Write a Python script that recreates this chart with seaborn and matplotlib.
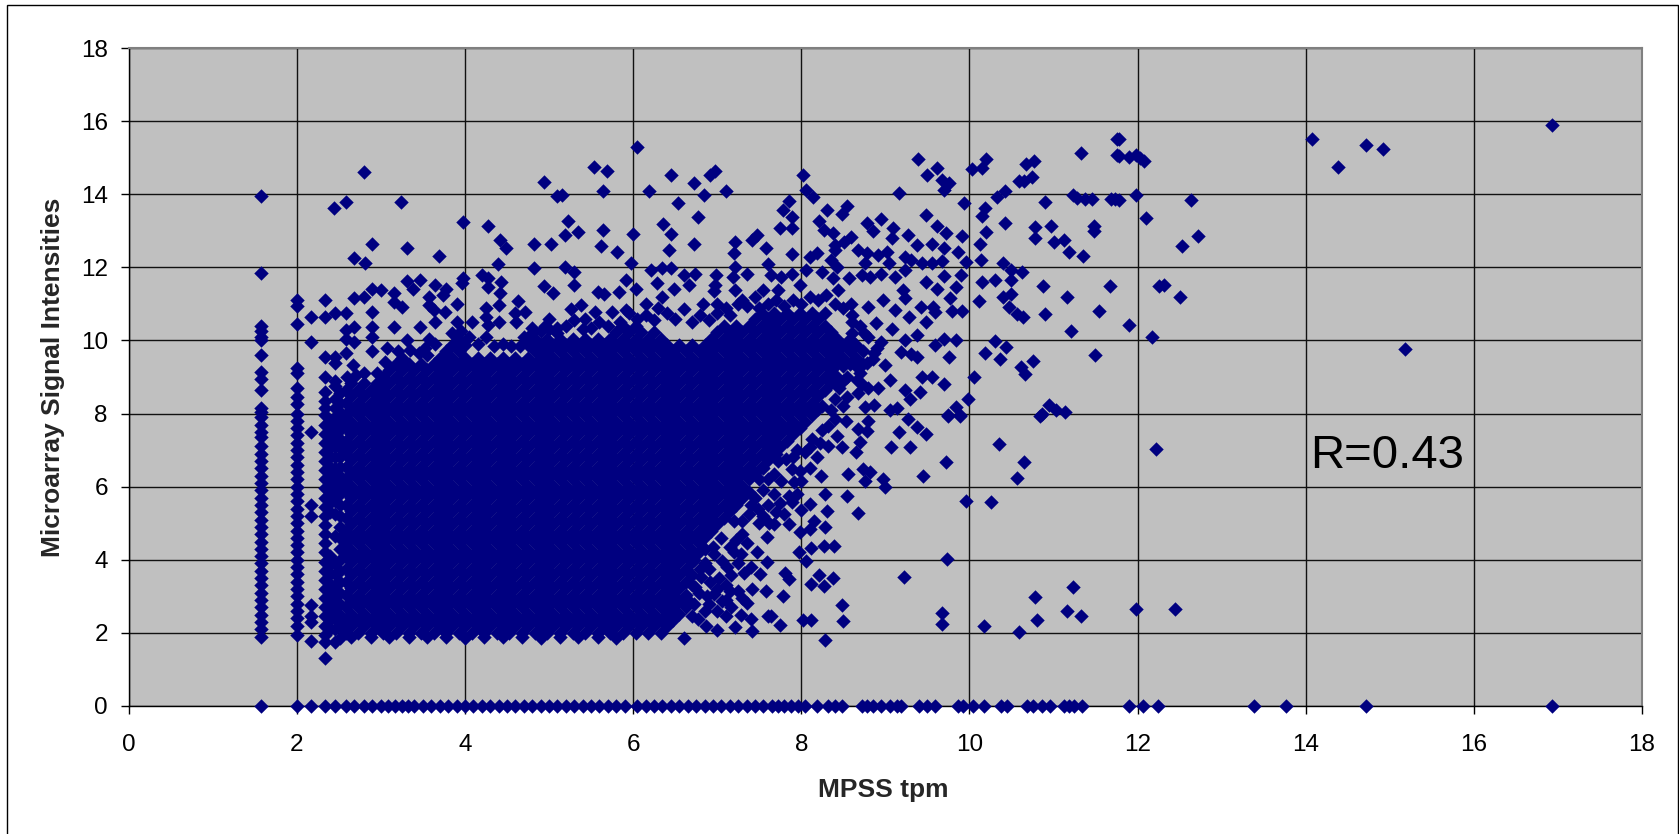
import matplotlib
matplotlib.use("Agg")
import matplotlib.pyplot as plt
import pandas as pd
import seaborn as sns
from matplotlib.patches import Rectangle

# Columns at the low end of the x axis, read one by one
col_158 = [13.95, 11.85, 10.4, 10.25, 10.1, 10.0, 9.6, 9.15, 8.95, 8.65, 8.15, 8.05, 7.9, 7.7, 7.5, 7.35, 7.1, 6.9, 6.7, 6.5, 6.3, 6.1, 5.9, 5.7, 5.5, 5.3, 5.1, 4.9, 4.7, 4.5, 4.3, 4.1, 3.9, 3.7, 3.5, 3.3, 3.1, 2.9, 2.7, 2.5, 2.3, 2.1, 1.9, 0]
col_200 = [11.1, 10.95, 10.45, 9.25, 9.1, 8.7, 8.45, 8.25, 8.0, 7.8, 7.6, 7.4, 7.2, 7.0, 6.8, 6.6, 6.4, 6.2, 6.0, 5.8, 5.6, 5.4, 5.2, 5.0, 4.8, 4.6, 4.4, 4.2, 4.0, 3.8, 3.6, 3.4, 3.2, 3.0, 2.8, 2.6, 2.4, 2.2, 1.95, 0]
col_217 = [10.65, 9.95, 7.5, 5.5, 5.2, 2.75, 2.47, 2.3, 1.78, 0]
col_233 = [11.1, 10.65, 9.55, 9.0, 8.6, 8.35, 8.15, 7.95, 7.7, 7.45, 7.2, 6.95, 6.7, 6.45, 6.2, 5.95, 5.7, 5.45, 5.2, 4.95, 4.7, 4.45, 4.2, 3.95, 3.7, 3.45, 3.2, 2.95, 2.7, 2.45, 2.2, 1.95, 1.75, 1.31, 0]
col_239 = [7.8, 7.55, 7.3, 7.05, 6.8, 6.55, 6.3, 6.05, 5.8, 5.55, 5.3, 4.1, 3.85, 3.6, 3.35, 3.1, 2.85, 2.6, 2.35, 2.1]
col_245 = [10.75, 9.55, 9.38, 8.9, 8.75, 8.4, 8.15, 7.9, 7.7, 7.4, 7.1, 6.8, 6.5, 6.2, 5.9, 5.6, 5.25, 4.65, 3.9, 3.6, 3.3, 3.0, 2.7, 2.4, 2.1, 1.75, 0]
col_252 = [8.55, 8.3, 8.05, 7.8, 7.55, 7.3, 7.05, 6.8, 6.55, 6.3, 6.05, 5.8, 5.5, 5.2, 4.9, 4.6, 4.3, 4.0, 3.7, 3.4, 3.1, 2.8, 2.5, 2.2, 1.85]

# Points sitting on y=0
baseline_x = [2.58, 2.68, 2.8, 2.9, 3.0, 3.08, 3.17, 3.25, 3.32, 3.4, 3.5, 3.6, 3.7, 3.8, 3.9, 4.0, 4.1, 4.2, 4.3, 4.4, 4.5, 4.6, 4.7, 4.8, 4.9, 5.0, 5.1, 5.2, 5.3, 5.4, 5.5, 5.6, 5.7, 5.8, 5.9, 6.05, 6.15, 6.25, 6.35, 6.45, 6.55, 6.65, 6.75, 6.85, 6.95, 7.05, 7.15, 7.25, 7.35, 7.45, 7.55, 7.65, 7.72, 7.8, 7.88, 7.96, 8.04, 8.19, 8.32, 8.4, 8.49, 8.72, 8.78, 8.85, 8.95, 9.06, 9.14, 9.19, 9.4, 9.5, 9.59, 9.87, 9.93, 10.04, 10.17, 10.38, 10.45, 10.69, 10.76, 10.86, 10.96, 11.12, 11.18, 11.25, 11.34, 11.9, 12.07, 12.24, 13.39, 13.76, 14.72, 16.93]

# Separate points above and around the cloud
upper_points = [(2.68, 12.26), (2.81, 12.13), (2.44, 13.63), (2.59, 13.79), (2.8, 14.61), (3.24, 13.79), (2.9, 12.63), (3.31, 12.52), (3.69, 12.3), (2.68, 11.15), (2.8, 11.2), (2.9, 11.42), (3.0, 11.38), (2.9, 10.77), (3.16, 11.29), (3.16, 11.06), (3.25, 10.92), (3.31, 11.63), (3.46, 11.65), (3.38, 11.42), (3.65, 11.51), (3.78, 11.42), (3.57, 11.2), (3.74, 11.24), (3.57, 10.97), (3.63, 10.83), (3.76, 10.79), (3.65, 10.51), (3.91, 11.0), (3.98, 13.25), (4.27, 13.13), (3.98, 11.7), (3.97, 11.56), (4.42, 12.76), (4.49, 12.52), (4.39, 12.08), (4.82, 12.63), (5.02, 12.63), (4.82, 11.97), (4.94, 14.34), (5.1, 13.95), (4.2, 11.79), (4.28, 11.7), (4.27, 11.47), (4.43, 11.6), (4.42, 11.29), (4.4, 10.97), (4.25, 10.88), (4.25, 10.65), (4.63, 11.08), (4.94, 11.5), (5.05, 11.29), (3.16, 10.36), (2.9, 10.37), (2.9, 10.1), (2.68, 10.36), (2.58, 10.28), (3.46, 10.38), (3.91, 10.51), (4.08, 10.51), (4.27, 10.42), (4.4, 10.51), (4.59, 10.74), (4.61, 10.51), (4.71, 10.79), (4.8, 10.33), (3.31, 10.0), (3.57, 10.03), (3.52, 9.78), (2.68, 9.96), (2.9, 9.72), (3.07, 9.78), (2.58, 10.75), (2.58, 10.05), (2.58, 9.65), (2.67, 9.33), (4.95, 10.4), (5.1, 10.35), (5.0, 10.6),
                (6.05, 15.29), (5.54, 14.74), (5.69, 14.63), (5.64, 14.09), (6.19, 14.09), (6.45, 14.52), (6.72, 14.31), (6.91, 14.52), (6.98, 14.63), (6.84, 13.97), (7.1, 14.09), (6.53, 13.75), (6.77, 13.37), (5.15, 13.97), (5.23, 13.26), (5.35, 12.97), (5.19, 12.88), (5.64, 13.03), (6.0, 12.92), (6.36, 13.19), (6.45, 12.92), (6.72, 12.64), (6.43, 12.47), (5.62, 12.59), (5.81, 12.42), (5.98, 12.11), (7.21, 12.7), (7.2, 12.4), (7.47, 12.88), (7.41, 12.75), (7.58, 12.54), (7.85, 13.82), (7.78, 13.57), (7.89, 13.37), (7.75, 13.08), (7.89, 13.07), (7.89, 12.36), (8.02, 14.52), (8.06, 14.11), (8.14, 13.93), (8.31, 13.58), (8.54, 13.69), (8.48, 13.46), (8.21, 13.27), (8.27, 13.02), (8.38, 12.93), (8.59, 12.84), (8.51, 12.7), (8.4, 12.61), (8.78, 13.22), (8.85, 13.0), (8.95, 13.32), (9.09, 13.07), (9.08, 12.79), (9.16, 14.02), (9.39, 14.96), (9.62, 14.73), (9.5, 14.52), (9.67, 14.39), (9.76, 14.31), (9.7, 14.11), (9.94, 13.75), (10.03, 14.69), (10.15, 14.72), (10.2, 14.96), (9.48, 13.43), (9.62, 13.14), (9.72, 12.93), (9.91, 12.86), (9.27, 12.88), (9.38, 12.61), (9.55, 12.65), (9.7, 12.52), (9.87, 12.43), (9.67, 12.18), (9.96, 12.15), (10.13, 12.64), (10.2, 12.97), (10.15, 13.4), (10.18, 13.61), (10.42, 13.2), (10.33, 13.93), (10.42, 14.09), (10.59, 14.36), (10.65, 14.36), (10.74, 14.46), (10.67, 14.84), (10.77, 14.92), (11.33, 15.13), (11.75, 15.51), (11.75, 15.07), (10.9, 13.8), (11.23, 13.98), (11.28, 13.89), (11.37, 13.87), (11.46, 13.87), (11.69, 13.86), (11.73, 13.86), (10.78, 13.11), (10.78, 12.81), (10.97, 13.14), (11.01, 12.7), (11.12, 12.75), (11.19, 12.41), (11.35, 12.32), (11.48, 13.13), (11.48, 13.0)]

mid_points = [(10.14, 12.2), (10.11, 11.09), (10.15, 11.59), (10.3, 11.65), (10.4, 12.11), (10.49, 11.92), (10.63, 11.86), (10.5, 11.65), (10.49, 11.27), (10.4, 11.2), (10.47, 10.92), (10.57, 10.71), (10.64, 10.65), (10.88, 11.49), (11.16, 11.2), (10.9, 10.71), (11.54, 10.81), (11.67, 11.49), (11.21, 10.27), (11.5, 9.6), (10.3, 9.99), (10.44, 9.83), (10.18, 9.66), (10.37, 9.49), (10.61, 9.28), (10.66, 9.08), (10.76, 9.44), (10.06, 8.99), (9.98, 8.39), (9.7, 8.82), (9.55, 9.01), (9.44, 9.01), (9.41, 8.6), (9.76, 9.55), (9.84, 10.01), (9.7, 10.03), (9.59, 9.87), (9.38, 9.55), (9.31, 9.63), (9.19, 9.69), (9.38, 10.15), (9.23, 10.01), (9.91, 10.81), (9.79, 10.81), (9.77, 11.15), (9.84, 11.47), (9.9, 11.79), (9.62, 11.42), (9.49, 11.59), (9.7, 11.76), (9.55, 12.11), (9.44, 12.11), (9.31, 12.2), (9.23, 12.29), (9.24, 11.93), (9.12, 11.74), (9.21, 11.38), (9.23, 11.15), (9.57, 10.92), (9.42, 10.92), (9.48, 10.51), (9.59, 10.79), (9.12, 10.83), (9.28, 10.65), (9.08, 10.3), (8.97, 11.1), (8.8, 10.92), (9.0, 9.33), (9.06, 8.92), (8.91, 8.69), (9.23, 8.64), (9.29, 8.41), (9.14, 8.14), (9.74, 7.96), (9.84, 8.19), (9.89, 7.96), (10.86, 8.0), (10.95, 8.23), (11.03, 8.1), (11.14, 8.05),
              (7.61, 12.1), (7.64, 11.79), (7.76, 11.74), (7.89, 11.83), (6.21, 11.93), (6.34, 11.97), (6.45, 11.97), (6.61, 11.79), (6.74, 11.83), (6.99, 11.79), (7.21, 12.02), (7.36, 11.83), (7.19, 11.74), (5.92, 11.65), (5.83, 11.33), (5.58, 11.33), (5.65, 11.27), (5.3, 11.51), (5.3, 11.88), (5.19, 12.02), (6.04, 11.42), (6.29, 11.56), (6.49, 11.42), (6.67, 11.51), (6.98, 11.51), (6.96, 11.35), (7.21, 11.38), (7.55, 11.38), (7.72, 11.38), (7.98, 11.51), (8.1, 12.29), (8.19, 12.38), (8.06, 11.93), (8.36, 12.2), (8.42, 12.02), (8.4, 12.47), (8.25, 11.88), (8.38, 11.7), (8.57, 11.7), (8.68, 12.47), (8.78, 12.38), (8.91, 12.33), (9.02, 12.43), (8.76, 12.11), (9.04, 12.11), (8.82, 11.74), (8.95, 11.83), (8.72, 11.79), (8.44, 11.38), (8.59, 11.01), (5.38, 10.97), (5.55, 10.79), (5.75, 10.79), (5.92, 10.83), (6.15, 11.01), (6.34, 11.2), (6.83, 11.01), (7.0, 11.01), (5.43, 10.6), (5.26, 10.87), (7.3, 11.1), (8.89, 10.47), (8.87, 9.65), (8.78, 9.37), (8.66, 8.92), (8.55, 8.46), (8.68, 8.55), (8.76, 8.19), (8.87, 8.23), (9.06, 8.1), (8.4, 9.37), (8.6, 10.5), (8.75, 10.2), (8.95, 9.95), (8.5, 8.9)]

lower_points = [(10.35, 7.17), (10.65, 6.67), (10.57, 6.24), (9.72, 6.67), (9.45, 6.28), (9.96, 5.62), (10.26, 5.57), (8.67, 5.29), (8.55, 5.74), (9.07, 7.08), (9.29, 7.09), (9.48, 7.44), (9.16, 7.5), (9.27, 7.85), (9.38, 7.62), (9.74, 7.94), (9.89, 7.94), (10.84, 7.94), (8.97, 6.21), (9.0, 6.0), (8.74, 6.48), (8.82, 6.39), (8.76, 6.16), (8.56, 6.35), (8.23, 6.28), (8.28, 5.8), (8.31, 5.34), (8.28, 4.9), (8.15, 5.07), (8.11, 4.84), (8.27, 4.37), (8.39, 4.37), (8.12, 4.31), (7.97, 4.2), (8.06, 3.97), (9.73, 4.02), (9.22, 3.52), (8.38, 3.5), (8.21, 3.59), (8.27, 3.29), (8.12, 3.35), (7.81, 3.63), (7.85, 3.47), (7.58, 3.15), (7.78, 3.02), (8.48, 2.76), (8.5, 2.32), (8.12, 2.36), (8.02, 2.36), (7.75, 2.21), (7.64, 2.47), (7.6, 2.47), (7.4, 2.38), (7.42, 2.06), (8.28, 1.81), (6.6, 1.86), (9.67, 2.54), (9.67, 2.24), (10.17, 2.2), (10.59, 2.03), (10.8, 2.36), (10.78, 2.97), (11.16, 2.59), (11.33, 2.47), (11.23, 3.25), (7.32, 3.63), (7.51, 3.61), (7.59, 3.93), (7.47, 4.2), (7.42, 3.2), (7.36, 2.81), (7.25, 3.15), (7.17, 3.57), (7.06, 2.88), (7.17, 2.7), (7.1, 2.47), (7.21, 2.15), (7.0, 2.08), (6.96, 3.07), (6.87, 2.2), (6.77, 2.38), (6.74, 3.25), (6.81, 3.52), (7.06, 3.98), (6.96, 4.16), (7.72, 6.71), (7.68, 5.8), (7.89, 5.57), (8.1, 5.53), (7.85, 4.98), (7.98, 4.75), (7.59, 4.61), (7.68, 4.98), (7.76, 6.16), (7.91, 6.12), (7.89, 6.48), (7.98, 6.44), (8.19, 6.8), (8.48, 7.08), (8.65, 6.94), (8.7, 7.21), (8.42, 7.39), (8.78, 7.53), (8.68, 7.58), (8.53, 7.8), (8.8, 7.8), (8.32, 7.12), (8.1, 7.08), (7.4, 5.5), (7.5, 5.0), (7.3, 4.7), (7.2, 4.2), (6.9, 2.8), (6.65, 2.9), (6.85, 3.9)]

right_points = [(14.07, 15.51), (14.38, 14.74), (14.72, 15.35), (14.92, 15.24), (16.93, 15.9), (15.18, 9.77), (11.98, 13.97), (12.63, 13.85), (12.1, 13.36), (12.72, 12.86), (12.53, 12.59), (12.26, 11.49), (12.31, 11.53), (12.51, 11.2), (11.9, 10.42), (12.17, 10.1), (12.22, 7.04), (11.98, 2.65), (12.44, 2.65), (11.78, 15.52), (11.78, 15.05), (11.9, 15.02), (11.98, 15.07), (12.03, 14.99), (12.08, 14.9), (11.78, 13.85)]

# Edge of the solid core, where the outline breaks up
edge_points = [(6.7, 2.45), (6.72, 2.8), (6.78, 3.1), (6.7, 3.3), (6.85, 2.6), (6.88, 3.0), (6.92, 3.4), (6.8, 3.75), (6.72, 4.0), (6.78, 4.2), (6.9, 3.75), (6.95, 4.35), (7.02, 3.5), (7.0, 3.2), (7.0, 2.6), (7.1, 2.9), (7.1, 3.3), (7.12, 3.8), (7.15, 4.35), (7.05, 4.6), (6.85, 4.3), (7.22, 4.55), (7.28, 4.15), (7.35, 4.45), (7.25, 3.9), (7.15, 3.15), (7.28, 2.5), (7.3, 2.95), (7.4, 3.8),
               (7.2, 5.05), (7.3, 5.05), (7.38, 5.25), (7.48, 5.4), (7.55, 5.2), (7.6, 5.5), (7.45, 5.7), (7.55, 5.9), (7.6, 6.2), (7.5, 6.2), (7.62, 5.0), (7.7, 5.3), (7.75, 5.55), (7.8, 5.25), (7.55, 6.5), (7.68, 6.35), (7.7, 6.9), (7.82, 6.75), (7.9, 6.8), (7.95, 7.0), (8.05, 6.95), (8.1, 6.5), (7.85, 5.75), (7.95, 5.8), (8.0, 5.35), (8.0, 6.15), (8.13, 7.3), (8.22, 7.2), (8.25, 7.55), (8.32, 7.65), (8.4, 7.85), (8.35, 8.1), (8.25, 8.2), (8.4, 8.4), (8.5, 8.2), (8.45, 8.7), (8.55, 9.0), (8.5, 9.3), (8.65, 9.3), (8.7, 9.1), (8.72, 8.8), (8.8, 8.7),
               (3.85, 10.2), (3.95, 10.25), (4.05, 10.1), (4.15, 9.9), (4.25, 10.1), (4.35, 9.85), (4.45, 9.9), (4.55, 9.85), (4.65, 9.85), (4.7, 10.1), (4.8, 10.2), (4.9, 10.25), (5.0, 10.3), (5.1, 10.2), (3.65, 9.9), (3.55, 9.6), (3.45, 9.65), (3.35, 9.75), (3.2, 9.7), (3.05, 9.4), (2.95, 9.1), (2.8, 9.1), (2.7, 9.05), (2.6, 9.0),
               (5.2, 10.4), (5.3, 10.55), (5.4, 10.3), (5.5, 10.35), (5.6, 10.5), (5.7, 10.4), (5.85, 10.5), (5.95, 10.75), (6.05, 10.6), (6.15, 10.7), (6.25, 10.55), (6.3, 10.9), (6.4, 10.75), (6.5, 10.6), (6.6, 10.85), (6.7, 10.5), (6.8, 10.7), (6.9, 10.55), (7.0, 10.75), (7.1, 10.9), (7.15, 10.7), (7.25, 11.0), (7.35, 10.95), (7.45, 11.2), (7.5, 10.9), (7.6, 11.0), (7.7, 11.1), (7.8, 10.95), (7.9, 11.1), (8.0, 11.0), (8.1, 11.2), (8.2, 11.1), (8.3, 11.25), (8.4, 11.0), (8.5, 10.9), (8.6, 10.7), (8.7, 10.4), (8.8, 10.1), (8.6, 10.2), (8.9, 9.8), (8.85, 9.5)]

# The core of the cloud is solid in the source, single points cannot be told
# apart there: these columns are estimates that reproduce the filled area
core_x = [2.58, 2.65, 2.73, 2.8, 2.88, 2.95, 3.03, 3.1, 3.18, 3.25, 3.33, 3.4, 3.48, 3.55, 3.63, 3.7, 3.78, 3.85, 3.93, 4.0, 4.08, 4.15, 4.23, 4.3, 4.38, 4.45, 4.53, 4.6, 4.68, 4.75, 4.83, 4.9, 4.98, 5.05, 5.13, 5.2, 5.28, 5.35, 5.43, 5.5, 5.58, 5.65, 5.73, 5.8, 5.88, 5.95, 6.03, 6.1, 6.18, 6.25, 6.33, 6.4, 6.48, 6.55, 6.63, 6.7, 6.78, 6.85, 6.93, 7.0, 7.08, 7.15, 7.23, 7.3, 7.38, 7.45, 7.53, 7.6, 7.68, 7.75, 7.83, 7.9, 7.98, 8.05, 8.13, 8.2, 8.28, 8.35, 8.43, 8.5, 8.58, 8.65, 8.73, 8.8]
core_y = [
    [2.0, 2.35, 2.7, 3.05, 3.4, 3.75, 4.1, 4.45, 4.8, 5.15, 5.5, 5.85, 6.2, 6.55, 6.9, 7.25, 7.6, 7.95, 8.3, 8.65],
    [1.9, 2.18, 2.53, 2.88, 3.23, 3.58, 3.93, 4.28, 4.63, 4.98, 5.33, 5.68, 6.03, 6.38, 6.73, 7.08, 7.43, 7.78, 8.13, 8.48, 8.83],
    [2.0, 2.35, 2.7, 3.05, 3.4, 3.75, 4.1, 4.45, 4.8, 5.15, 5.5, 5.85, 6.2, 6.55, 6.9, 7.25, 7.6, 7.95, 8.3, 8.65],
    [2.18, 2.53, 2.88, 3.23, 3.58, 3.93, 4.28, 4.63, 4.98, 5.33, 5.68, 6.03, 6.38, 6.73, 7.08, 7.43, 7.78, 8.13, 8.48, 8.83],
    [1.88, 2.0, 2.35, 2.7, 3.05, 3.4, 3.75, 4.1, 4.45, 4.8, 5.15, 5.5, 5.85, 6.2, 6.55, 6.9, 7.25, 7.6, 7.95, 8.3, 8.65],
    [2.18, 2.53, 2.88, 3.23, 3.58, 3.93, 4.28, 4.63, 4.98, 5.33, 5.68, 6.03, 6.38, 6.73, 7.08, 7.43, 7.78, 8.13, 8.48, 8.83],
    [2.0, 2.35, 2.7, 3.05, 3.4, 3.75, 4.1, 4.45, 4.8, 5.15, 5.5, 5.85, 6.2, 6.55, 6.9, 7.25, 7.6, 7.95, 8.3, 8.65, 9.0],
    [1.9, 2.18, 2.53, 2.88, 3.23, 3.58, 3.93, 4.28, 4.63, 4.98, 5.33, 5.68, 6.03, 6.38, 6.73, 7.08, 7.43, 7.78, 8.13, 8.48, 8.83, 9.18],
    [2.0, 2.35, 2.7, 3.05, 3.4, 3.75, 4.1, 4.45, 4.8, 5.15, 5.5, 5.85, 6.2, 6.55, 6.9, 7.25, 7.6, 7.95, 8.3, 8.65, 9.0, 9.35],
    [2.18, 2.53, 2.88, 3.23, 3.58, 3.93, 4.28, 4.63, 4.98, 5.33, 5.68, 6.03, 6.38, 6.73, 7.08, 7.43, 7.78, 8.13, 8.48, 8.83, 9.18, 9.53],
    [1.88, 2.0, 2.35, 2.7, 3.05, 3.4, 3.75, 4.1, 4.45, 4.8, 5.15, 5.5, 5.85, 6.2, 6.55, 6.9, 7.25, 7.6, 7.95, 8.3, 8.65, 9.0, 9.35],
    [2.18, 2.53, 2.88, 3.23, 3.58, 3.93, 4.28, 4.63, 4.98, 5.33, 5.68, 6.03, 6.38, 6.73, 7.08, 7.43, 7.78, 8.13, 8.48, 8.83, 9.18],
    [2.0, 2.35, 2.7, 3.05, 3.4, 3.75, 4.1, 4.45, 4.8, 5.15, 5.5, 5.85, 6.2, 6.55, 6.9, 7.25, 7.6, 7.95, 8.3, 8.65, 9.0, 9.35],
    [1.9, 2.18, 2.53, 2.88, 3.23, 3.58, 3.93, 4.28, 4.63, 4.98, 5.33, 5.68, 6.03, 6.38, 6.73, 7.08, 7.43, 7.78, 8.13, 8.48, 8.83, 9.18],
    [2.0, 2.35, 2.7, 3.05, 3.4, 3.75, 4.1, 4.45, 4.8, 5.15, 5.5, 5.85, 6.2, 6.55, 6.9, 7.25, 7.6, 7.95, 8.3, 8.65, 9.0, 9.35],
    [2.18, 2.53, 2.88, 3.23, 3.58, 3.93, 4.28, 4.63, 4.98, 5.33, 5.68, 6.03, 6.38, 6.73, 7.08, 7.43, 7.78, 8.13, 8.48, 8.83, 9.18, 9.53],
    [1.88, 2.0, 2.35, 2.7, 3.05, 3.4, 3.75, 4.1, 4.45, 4.8, 5.15, 5.5, 5.85, 6.2, 6.55, 6.9, 7.25, 7.6, 7.95, 8.3, 8.65, 9.0, 9.35, 9.7],
    [2.18, 2.53, 2.88, 3.23, 3.58, 3.93, 4.28, 4.63, 4.98, 5.33, 5.68, 6.03, 6.38, 6.73, 7.08, 7.43, 7.78, 8.13, 8.48, 8.83, 9.18, 9.53, 9.88],
    [2.0, 2.35, 2.7, 3.05, 3.4, 3.75, 4.1, 4.45, 4.8, 5.15, 5.5, 5.85, 6.2, 6.55, 6.9, 7.25, 7.6, 7.95, 8.3, 8.65, 9.0, 9.35, 9.7, 10.05],
    [1.85, 2.18, 2.53, 2.88, 3.23, 3.58, 3.93, 4.28, 4.63, 4.98, 5.33, 5.68, 6.03, 6.38, 6.73, 7.08, 7.43, 7.78, 8.13, 8.48, 8.83, 9.18, 9.53, 9.88],
    [2.0, 2.35, 2.7, 3.05, 3.4, 3.75, 4.1, 4.45, 4.8, 5.15, 5.5, 5.85, 6.2, 6.55, 6.9, 7.25, 7.6, 7.95, 8.3, 8.65, 9.0, 9.35],
    [2.18, 2.53, 2.88, 3.23, 3.58, 3.93, 4.28, 4.63, 4.98, 5.33, 5.68, 6.03, 6.38, 6.73, 7.08, 7.43, 7.78, 8.13, 8.48, 8.83, 9.18, 9.53],
    [1.9, 2.0, 2.35, 2.7, 3.05, 3.4, 3.75, 4.1, 4.45, 4.8, 5.15, 5.5, 5.85, 6.2, 6.55, 6.9, 7.25, 7.6, 7.95, 8.3, 8.65, 9.0, 9.35],
    [2.18, 2.53, 2.88, 3.23, 3.58, 3.93, 4.28, 4.63, 4.98, 5.33, 5.68, 6.03, 6.38, 6.73, 7.08, 7.43, 7.78, 8.13, 8.48, 8.83, 9.18, 9.53],
    [2.0, 2.35, 2.7, 3.05, 3.4, 3.75, 4.1, 4.45, 4.8, 5.15, 5.5, 5.85, 6.2, 6.55, 6.9, 7.25, 7.6, 7.95, 8.3, 8.65, 9.0, 9.35],
    [1.88, 2.18, 2.53, 2.88, 3.23, 3.58, 3.93, 4.28, 4.63, 4.98, 5.33, 5.68, 6.03, 6.38, 6.73, 7.08, 7.43, 7.78, 8.13, 8.48, 8.83, 9.18, 9.53],
    [2.0, 2.35, 2.7, 3.05, 3.4, 3.75, 4.1, 4.45, 4.8, 5.15, 5.5, 5.85, 6.2, 6.55, 6.9, 7.25, 7.6, 7.95, 8.3, 8.65, 9.0, 9.35],
    [2.18, 2.53, 2.88, 3.23, 3.58, 3.93, 4.28, 4.63, 4.98, 5.33, 5.68, 6.03, 6.38, 6.73, 7.08, 7.43, 7.78, 8.13, 8.48, 8.83, 9.18, 9.53],
    [1.9, 2.0, 2.35, 2.7, 3.05, 3.4, 3.75, 4.1, 4.45, 4.8, 5.15, 5.5, 5.85, 6.2, 6.55, 6.9, 7.25, 7.6, 7.95, 8.3, 8.65, 9.0, 9.35],
    [2.18, 2.53, 2.88, 3.23, 3.58, 3.93, 4.28, 4.63, 4.98, 5.33, 5.68, 6.03, 6.38, 6.73, 7.08, 7.43, 7.78, 8.13, 8.48, 8.83, 9.18, 9.53, 9.88],
    [2.0, 2.35, 2.7, 3.05, 3.4, 3.75, 4.1, 4.45, 4.8, 5.15, 5.5, 5.85, 6.2, 6.55, 6.9, 7.25, 7.6, 7.95, 8.3, 8.65, 9.0, 9.35, 9.7, 10.05],
    [1.85, 2.18, 2.53, 2.88, 3.23, 3.58, 3.93, 4.28, 4.63, 4.98, 5.33, 5.68, 6.03, 6.38, 6.73, 7.08, 7.43, 7.78, 8.13, 8.48, 8.83, 9.18, 9.53, 9.88],
    [2.0, 2.35, 2.7, 3.05, 3.4, 3.75, 4.1, 4.45, 4.8, 5.15, 5.5, 5.85, 6.2, 6.55, 6.9, 7.25, 7.6, 7.95, 8.3, 8.65, 9.0, 9.35, 9.7, 10.05],
    [2.18, 2.53, 2.88, 3.23, 3.58, 3.93, 4.28, 4.63, 4.98, 5.33, 5.68, 6.03, 6.38, 6.73, 7.08, 7.43, 7.78, 8.13, 8.48, 8.83, 9.18, 9.53, 9.88],
    [1.9, 2.0, 2.35, 2.7, 3.05, 3.4, 3.75, 4.1, 4.45, 4.8, 5.15, 5.5, 5.85, 6.2, 6.55, 6.9, 7.25, 7.6, 7.95, 8.3, 8.65, 9.0, 9.35, 9.7, 10.05],
    [2.18, 2.53, 2.88, 3.23, 3.58, 3.93, 4.28, 4.63, 4.98, 5.33, 5.68, 6.03, 6.38, 6.73, 7.08, 7.43, 7.78, 8.13, 8.48, 8.83, 9.18, 9.53, 9.88],
    [2.0, 2.35, 2.7, 3.05, 3.4, 3.75, 4.1, 4.45, 4.8, 5.15, 5.5, 5.85, 6.2, 6.55, 6.9, 7.25, 7.6, 7.95, 8.3, 8.65, 9.0, 9.35, 9.7, 10.05],
    [1.88, 2.18, 2.53, 2.88, 3.23, 3.58, 3.93, 4.28, 4.63, 4.98, 5.33, 5.68, 6.03, 6.38, 6.73, 7.08, 7.43, 7.78, 8.13, 8.48, 8.83, 9.18, 9.53, 9.88],
    [2.0, 2.35, 2.7, 3.05, 3.4, 3.75, 4.1, 4.45, 4.8, 5.15, 5.5, 5.85, 6.2, 6.55, 6.9, 7.25, 7.6, 7.95, 8.3, 8.65, 9.0, 9.35, 9.7, 10.05],
    [2.18, 2.53, 2.88, 3.23, 3.58, 3.93, 4.28, 4.63, 4.98, 5.33, 5.68, 6.03, 6.38, 6.73, 7.08, 7.43, 7.78, 8.13, 8.48, 8.83, 9.18, 9.53, 9.88],
    [1.9, 2.0, 2.35, 2.7, 3.05, 3.4, 3.75, 4.1, 4.45, 4.8, 5.15, 5.5, 5.85, 6.2, 6.55, 6.9, 7.25, 7.6, 7.95, 8.3, 8.65, 9.0, 9.35, 9.7, 10.05],
    [2.18, 2.53, 2.88, 3.23, 3.58, 3.93, 4.28, 4.63, 4.98, 5.33, 5.68, 6.03, 6.38, 6.73, 7.08, 7.43, 7.78, 8.13, 8.48, 8.83, 9.18, 9.53, 9.88],
    [2.0, 2.35, 2.7, 3.05, 3.4, 3.75, 4.1, 4.45, 4.8, 5.15, 5.5, 5.85, 6.2, 6.55, 6.9, 7.25, 7.6, 7.95, 8.3, 8.65, 9.0, 9.35, 9.7, 10.05],
    [1.85, 2.18, 2.53, 2.88, 3.23, 3.58, 3.93, 4.28, 4.63, 4.98, 5.33, 5.68, 6.03, 6.38, 6.73, 7.08, 7.43, 7.78, 8.13, 8.48, 8.83, 9.18, 9.53, 9.88, 10.23],
    [2.0, 2.35, 2.7, 3.05, 3.4, 3.75, 4.1, 4.45, 4.8, 5.15, 5.5, 5.85, 6.2, 6.55, 6.9, 7.25, 7.6, 7.95, 8.3, 8.65, 9.0, 9.35, 9.7, 10.05, 10.4],
    [2.18, 2.53, 2.88, 3.23, 3.58, 3.93, 4.28, 4.63, 4.98, 5.33, 5.68, 6.03, 6.38, 6.73, 7.08, 7.43, 7.78, 8.13, 8.48, 8.83, 9.18, 9.53, 9.88, 10.23],
    [2.0, 2.35, 2.7, 3.05, 3.4, 3.75, 4.1, 4.45, 4.8, 5.15, 5.5, 5.85, 6.2, 6.55, 6.9, 7.25, 7.6, 7.95, 8.3, 8.65, 9.0, 9.35, 9.7, 10.05, 10.4],
    [2.18, 2.53, 2.88, 3.23, 3.58, 3.93, 4.28, 4.63, 4.98, 5.33, 5.68, 6.03, 6.38, 6.73, 7.08, 7.43, 7.78, 8.13, 8.48, 8.83, 9.18, 9.53, 9.88, 10.23],
    [2.0, 2.35, 2.7, 3.05, 3.4, 3.75, 4.1, 4.45, 4.8, 5.15, 5.5, 5.85, 6.2, 6.55, 6.9, 7.25, 7.6, 7.95, 8.3, 8.65, 9.0, 9.35, 9.7, 10.05],
    [2.18, 2.53, 2.88, 3.23, 3.58, 3.93, 4.28, 4.63, 4.98, 5.33, 5.68, 6.03, 6.38, 6.73, 7.08, 7.43, 7.78, 8.13, 8.48, 8.83, 9.18, 9.53, 9.88, 10.23],
    [2.0, 2.35, 2.7, 3.05, 3.4, 3.75, 4.1, 4.45, 4.8, 5.15, 5.5, 5.85, 6.2, 6.55, 6.9, 7.25, 7.6, 7.95, 8.3, 8.65, 9.0, 9.35, 9.7, 10.05],
    [2.18, 2.53, 2.88, 3.23, 3.58, 3.93, 4.28, 4.63, 4.98, 5.33, 5.68, 6.03, 6.38, 6.73, 7.08, 7.43, 7.78, 8.13, 8.48, 8.83, 9.18, 9.53, 9.88],
    [2.35, 2.7, 3.05, 3.4, 3.75, 4.1, 4.45, 4.8, 5.15, 5.5, 5.85, 6.2, 6.55, 6.9, 7.25, 7.6, 7.95, 8.3, 8.65, 9.0, 9.35, 9.7],
    [2.53, 2.88, 3.23, 3.58, 3.93, 4.28, 4.63, 4.98, 5.33, 5.68, 6.03, 6.38, 6.73, 7.08, 7.43, 7.78, 8.13, 8.48, 8.83, 9.18, 9.53, 9.88],
    [2.7, 3.05, 3.4, 3.75, 4.1, 4.45, 4.8, 5.15, 5.5, 5.85, 6.2, 6.55, 6.9, 7.25, 7.6, 7.95, 8.3, 8.65, 9.0, 9.35, 9.7],
    [3.58, 3.93, 4.28, 4.63, 4.98, 5.33, 5.68, 6.03, 6.38, 6.73, 7.08, 7.43, 7.78, 8.13, 8.48, 8.83, 9.18, 9.53, 9.88],
    [4.45, 4.8, 5.15, 5.5, 5.85, 6.2, 6.55, 6.9, 7.25, 7.6, 7.95, 8.3, 8.65, 9.0, 9.35, 9.7],
    [4.63, 4.98, 5.33, 5.68, 6.03, 6.38, 6.73, 7.08, 7.43, 7.78, 8.13, 8.48, 8.83, 9.18, 9.53, 9.88],
    [4.8, 5.15, 5.5, 5.85, 6.2, 6.55, 6.9, 7.25, 7.6, 7.95, 8.3, 8.65, 9.0, 9.35, 9.7, 10.05],
    [4.98, 5.33, 5.68, 6.03, 6.38, 6.73, 7.08, 7.43, 7.78, 8.13, 8.48, 8.83, 9.18, 9.53, 9.88, 10.23],
    [5.15, 5.5, 5.85, 6.2, 6.55, 6.9, 7.25, 7.6, 7.95, 8.3, 8.65, 9.0, 9.35, 9.7, 10.05, 10.4],
    [5.33, 5.68, 6.03, 6.38, 6.73, 7.08, 7.43, 7.78, 8.13, 8.48, 8.83, 9.18, 9.53, 9.88, 10.23],
    [5.5, 5.85, 6.2, 6.55, 6.9, 7.25, 7.6, 7.95, 8.3, 8.65, 9.0, 9.35, 9.7, 10.05, 10.4],
    [5.68, 6.03, 6.38, 6.73, 7.08, 7.43, 7.78, 8.13, 8.48, 8.83, 9.18, 9.53, 9.88, 10.23],
    [5.85, 6.2, 6.55, 6.9, 7.25, 7.6, 7.95, 8.3, 8.65, 9.0, 9.35, 9.7, 10.05, 10.4],
    [6.38, 6.73, 7.08, 7.43, 7.78, 8.13, 8.48, 8.83, 9.18, 9.53, 9.88, 10.23, 10.58],
    [6.55, 6.9, 7.25, 7.6, 7.95, 8.3, 8.65, 9.0, 9.35, 9.7, 10.05, 10.4, 10.75],
    [6.73, 7.08, 7.43, 7.78, 8.13, 8.48, 8.83, 9.18, 9.53, 9.88, 10.23, 10.58],
    [6.9, 7.25, 7.6, 7.95, 8.3, 8.65, 9.0, 9.35, 9.7, 10.05, 10.4, 10.75],
    [7.08, 7.43, 7.78, 8.13, 8.48, 8.83, 9.18, 9.53, 9.88, 10.23, 10.58],
    [7.25, 7.6, 7.95, 8.3, 8.65, 9.0, 9.35, 9.7, 10.05, 10.4, 10.75],
    [7.43, 7.78, 8.13, 8.48, 8.83, 9.18, 9.53, 9.88, 10.23, 10.58],
    [7.6, 7.95, 8.3, 8.65, 9.0, 9.35, 9.7, 10.05, 10.4, 10.75],
    [7.78, 8.13, 8.48, 8.83, 9.18, 9.53, 9.88, 10.23, 10.58],
    [7.95, 8.3, 8.65, 9.0, 9.35, 9.7, 10.05, 10.4, 10.75],
    [8.13, 8.48, 8.83, 9.18, 9.53, 9.88, 10.23, 10.58],
    [8.65, 9.0, 9.35, 9.7, 10.05, 10.4, 10.75],
    [8.83, 9.18, 9.53, 9.88, 10.23],
    [9.0, 9.35, 9.7, 10.05],
    [9.53, 9.88],
    [9.35, 9.7, 10.05],
    [9.53, 9.88],
    [9.35, 9.7],
]

x_ticks = [0, 2, 4, 6, 8, 10, 12, 14, 16, 18]
y_ticks = [0, 2, 4, 6, 8, 10, 12, 14, 16, 18]

rows = []
for x_col, col in [(1.58, col_158), (2.0, col_200), (2.17, col_217), (2.33, col_233),
                   (2.39, col_239), (2.45, col_245), (2.52, col_252)]:
    rows += [(x_col, y) for y in col]
rows += [(x, 0) for x in baseline_x]
rows += upper_points + mid_points + lower_points + right_points + edge_points
for x_col, col in zip(core_x, core_y):
    rows += [(x_col, y) for y in col]
df = pd.DataFrame(rows, columns=["mpss", "signal"])

sns.set_style("white")
plt.rcParams["font.family"] = ["Liberation Sans", "DejaVu Sans"]

W, H = 1679, 834
fig = plt.figure(figsize=(W / 100, H / 100), dpi=100, facecolor="white")
ax = fig.add_axes([128.6 / W, (H - 706) / H, 1513.4 / W, 658 / H])
ax.set_facecolor("#C0C0C0")

sns.scatterplot(data=df, x="mpss", y="signal", marker="D", color="#000080",
                s=54, linewidth=0, clip_on=False, zorder=3, ax=ax)

ax.set_xlim(0, 18)
ax.set_ylim(0, 18)
ax.set_xticks(x_ticks)
ax.set_yticks(y_ticks)
ax.grid(True, color="#111111", linewidth=1)
ax.set_axisbelow(True)
ax.tick_params(axis="both", labelsize=17.5, length=6, width=1, color="black",
               labelcolor="black", left=True, bottom=True)
ax.tick_params(axis="x", pad=14)
ax.tick_params(axis="y", pad=9)

for side in ["left", "bottom"]:
    ax.spines[side].set_color("black")
    ax.spines[side].set_linewidth(1)
for side in ["top", "right"]:
    ax.spines[side].set_color("#808080")
    ax.spines[side].set_linewidth(1.5)

ax.set_xlabel("MPSS tpm", fontsize=19, fontweight="bold")
ax.set_ylabel("Microarray Signal Intensities", fontsize=19, fontweight="bold")
ax.xaxis.set_label_coords(0.4985, -0.128)
ax.yaxis.set_label_coords(-0.05, 0.5)
ax.xaxis.label.set_verticalalignment("center")
ax.yaxis.label.set_verticalalignment("center")

ax.text(14.05, 6.51, "R=0.43", fontsize=34, color="black", va="baseline", ha="left", zorder=4)

# Outer chart frame, its bottom edge is cut off in the source
fig.add_artist(Rectangle((7 / W, -0.02), 1671 / W, 1.02 - 5 / H, transform=fig.transFigure,
                         fill=False, edgecolor="black", linewidth=1))

fig.savefig("out.png", dpi=100, facecolor="white")
plt.close(fig)
